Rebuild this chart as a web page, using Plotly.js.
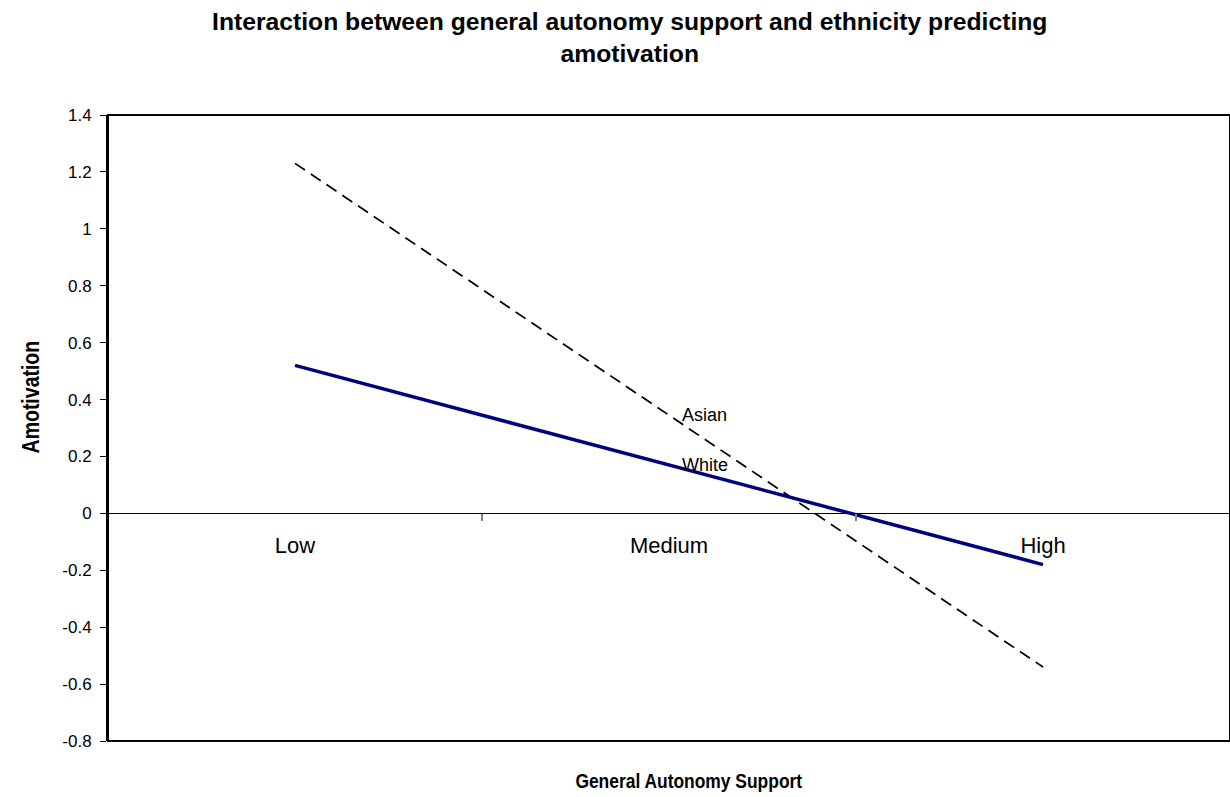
<!DOCTYPE html>
<html>
<head>
<meta charset="utf-8">
<script src="https://cdn.plot.ly/plotly-3.0.1.min.js"></script>
<style>
html,body{margin:0;padding:0;background:#fff;}
#chart{width:1230px;height:797px;}
.narrow-title{transform-box:fill-box;transform-origin:center;transform:scaleX(0.83);}
</style>
</head>
<body>
<div id="chart"></div>
<script>
// ---- data ----
const categories = ["Low", "Medium", "High"];
const asianValues = [1.23, 0.345, -0.54];
const whiteValues = [0.52, 0.17, -0.18];
const seriesNames = ["Asian", "White"];
const yTickVals = [1.4, 1.2, 1, 0.8, 0.6, 0.4, 0.2, 0, -0.2, -0.4, -0.6, -0.8];
const yTickText = ["1.4", "1.2", "1", "0.8", "0.6", "0.4", "0.2", "0", "-0.2", "-0.4", "-0.6", "-0.8"];
const chartTitle = "Interaction between general autonomy support and ethnicity predicting<br>amotivation";
const xTitle = "General Autonomy Support";
const yTitle = "Amotivation";

const yMin = -0.8, yMax = 1.4;
const FONT = "Liberation Sans, Arial, sans-serif";

const traces = [
  {
    x: categories, y: asianValues, name: seriesNames[0], type: "scatter", mode: "lines",
    line: {color: "#000000", width: 1.75, dash: "12px,7px"}, hoverinfo: "skip"
  },
  {
    x: categories, y: whiteValues, name: seriesNames[1], type: "scatter", mode: "lines",
    line: {color: "#000080", width: 3.5}, hoverinfo: "skip"
  }
];

const zeroPos = (0 - yMin) / (yMax - yMin);
const plotW = 1230 - 108, plotH = 797 - 115 - 56;

const layout = {
  width: 1230, height: 797,
  paper_bgcolor: "#ffffff", plot_bgcolor: "#ffffff",
  showlegend: false,
  margin: {l: 108, r: 0, t: 115, b: 56, pad: 0},
  font: {family: FONT, color: "#000000"},
  title: {
    text: "<b>" + chartTitle + "</b>",
    font: {family: FONT, size: 24.7, color: "#000000"},
    xref: "container", x: 0.512, xanchor: "center",
    yref: "container", y: 0.9625, yanchor: "top"
  },
  xaxis: {
    type: "category",
    categoryarray: categories, categoryorder: "array",
    range: [-0.5, 2.5],
    anchor: "free", position: zeroPos,
    showline: true, linecolor: "#000000", linewidth: 1,
    ticks: "outside", tickson: "boundaries", ticklen: 7, tickwidth: 2, tickcolor: "#808080",
    ticklabelstandoff: 12,
    tickfont: {family: FONT, size: 22, color: "#000000"},
    showgrid: false, zeroline: false, fixedrange: true
  },
  yaxis: {
    range: [yMin, yMax],
    tickmode: "array", tickvals: yTickVals, ticktext: yTickText,
    showline: true, linecolor: "#000000", linewidth: 2,
    ticks: "outside", ticklen: 6, tickwidth: 1, tickcolor: "#000000",
    ticklabelstandoff: 5,
    tickfont: {family: FONT, size: 17, color: "#000000"},
    showgrid: false, zeroline: false, fixedrange: true
  },
  shapes: [
    {type: "rect", xref: "paper", yref: "paper", x0: 0, x1: 1, y0: 0, y1: 1,
     line: {color: "#000000", width: 2}, fillcolor: "rgba(0,0,0,0)", layer: "above"}
  ],
  annotations: [
    {x: categories[1], y: asianValues[1], xref: "x", yref: "y", text: seriesNames[0],
     showarrow: false, xanchor: "left", yanchor: "middle", xshift: 11,
     font: {family: FONT, size: 18, color: "#000000"}},
    {x: categories[1], y: whiteValues[1], xref: "x", yref: "y", text: seriesNames[1],
     showarrow: false, xanchor: "left", yanchor: "middle", xshift: 11,
     font: {family: FONT, size: 18, color: "#000000"}},
    {x: (688 - 108) / plotW, y: -(780 - (797 - 56)) / plotH, xref: "paper", yref: "paper",
     text: "<b>" + xTitle + "</b>",
     showarrow: false, xanchor: "center", yanchor: "middle",
     font: {family: FONT, size: 21, color: "#000000"}},
    {x: -(108 - 31) / plotW, y: ((797 - 56) - 397) / plotH, xref: "paper", yref: "paper",
     text: "<b>" + yTitle + "</b>", showarrow: false, textangle: -90,
     xanchor: "center", yanchor: "middle",
     font: {family: FONT, size: 23.5, color: "#000000"}}
  ]
};

Plotly.newPlot("chart", traces, layout, {staticPlot: true, displayModeBar: false}).then(function (gd) {
  const texts = gd.querySelectorAll("text.annotation-text");
  texts.forEach(function (t) {
    const s = t.textContent;
    if (s === xTitle || s === yTitle) t.classList.add("narrow-title");
  });
});
</script>
</body>
</html>
